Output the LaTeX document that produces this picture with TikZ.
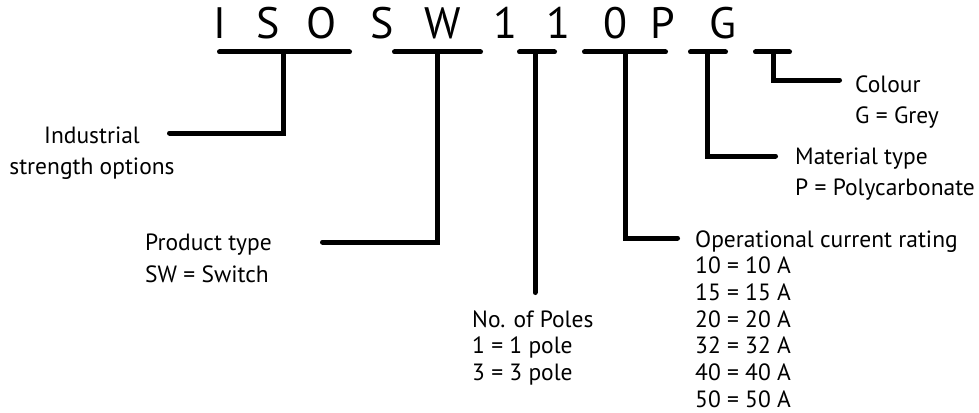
\documentclass[tikz,border=0pt]{standalone}
\usepackage{fontspec}
\setmainfont{PT Sans}
\begin{document}
\begin{tikzpicture}[x=1pt,y=-1pt,
  big/.style={font=\fontsize{44}{44}\selectfont, anchor=base, inner sep=0pt},
  lbl/.style={font=\fontsize{23.5}{#1}\selectfont, align=left, anchor=base west, inner sep=0pt},
  lbl/.default=31.5,
  bar/.style={line width=5pt, line cap=round},
  conn/.style={line width=5pt, line cap=round, line join=miter}]
\useasboundingbox (0,0) rectangle (979,412);
% code letters
\node[big] (c1) at (220,38) {I};
\node[big] (c2) at (268,38) {S};
\node[big] (c3) at (322,38) {O};
\node[big] (c4) at (382,38) {S};
\node[big] (c5) at (443,38) {W};
\node[big] (c6) at (505,38) {1};
\node[big] (c7) at (558,38) {1};
\node[big] (c8) at (615,38) {0};
\node[big] (c9) at (663,38) {P};
\node[big] (c10) at (723,38) {G};
% bars
\coordinate (b1l) at (219.5,52); \coordinate (b1r) at (349.5,52);
\coordinate (b2l) at (394.5,52); \coordinate (b2r) at (480.5,52);
\coordinate (b3l) at (519.5,52); \coordinate (b3r) at (554.5,52);
\coordinate (b4l) at (584.5,52); \coordinate (b4r) at (665.5,52);
\coordinate (b5l) at (690.5,52); \coordinate (b5r) at (725.5,52);
\coordinate (b6l) at (755.5,52); \coordinate (b6r) at (789.5,52);
\foreach \i in {1,...,6} {\draw[bar] (b\i l) -- (b\i r);}
% stem roots
\coordinate (s1) at (283,52);
\coordinate (s2) at (437,52);
\coordinate (s3) at (535,52);
\coordinate (s4) at (625,52);
\coordinate (s5) at (707,52);
\coordinate (s6) at (773,52);
% connector ends
\coordinate (e1) at (169.5,133);
\coordinate (e2) at (322.5,242);
\coordinate (e3) at (535,292.5);
\coordinate (e4) at (677.5,238);
\coordinate (e5) at (775.5,156);
\coordinate (e6) at (839.5,80);
% labels (base anchor = baseline of the last line)
\node[lbl=31, align=center, anchor=base] (ind) at (92,174) {Industrial\\strength options};
\node[lbl=32] (prod) at (145,282) {Product type\\SW = Switch};
\node[lbl=26.7] (poles) at (472,380.4) {No. of Poles\\1 = 1 pole\\3 = 3 pole};
\node[lbl=26.7] (oper) at (695,407.2) {Operational current rating\\10 = 10 A\\15 = 15 A\\20 = 20 A\\32 = 32 A\\40 = 40 A\\50 = 50 A};
\node[lbl=31.5] (mat) at (795,195.5) {Material type\\P = Polycarbonate};
\node[lbl=31] (col) at (855,123) {Colour\\G = Grey};
% connectors
\draw[conn] (s1) |- (e1);
\draw[conn] (s2) |- (e2);
\draw[conn] (s3) -- (e3);
\draw[conn] (s4) |- (e4);
\draw[conn] (s5) |- (e5);
\draw[conn] (s6) |- (e6);
\end{tikzpicture}
\end{document}
